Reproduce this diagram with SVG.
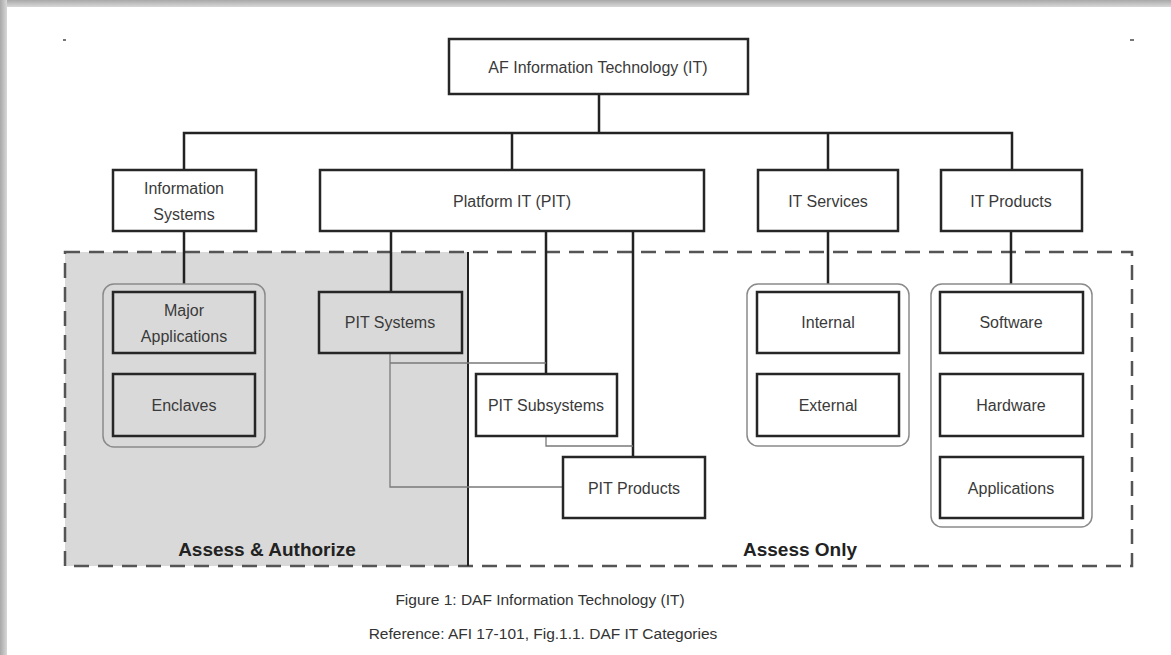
<svg xmlns="http://www.w3.org/2000/svg" width="1171" height="655" viewBox="0 0 1171 655">
<defs>
<linearGradient id="shT" x1="0" y1="0" x2="0" y2="1"><stop offset="0" stop-color="#a8a8a8"/><stop offset="1" stop-color="#d8d8d8"/></linearGradient>
<linearGradient id="shL" x1="0" y1="0" x2="1" y2="0"><stop offset="0" stop-color="#a8a8a8"/><stop offset="1" stop-color="#d8d8d8"/></linearGradient>
</defs>
<style>
.box{fill:#fff;stroke:#262626;stroke-width:2.5}
.gbox{fill:#d9d9d9;stroke:#262626;stroke-width:2.5}
.grp{fill:none;stroke:#8a8a8a;stroke-width:1.5}
.ln{fill:none;stroke:#222;stroke-width:2.5}
.thin{fill:none;stroke:#7a7a7a;stroke-width:1.3}
.dash{fill:none;stroke:#555;stroke-width:2.5;stroke-dasharray:15 9}
.t{font-family:"Liberation Sans",Arial,sans-serif;font-size:16px;fill:#3a3a3a;text-anchor:middle}
.b{font-family:"Liberation Sans",Arial,sans-serif;font-size:19px;font-weight:bold;fill:#222}
.c{font-family:"Liberation Sans",Arial,sans-serif;font-size:15.5px;fill:#333;text-anchor:middle}
</style>
<rect width="1171" height="655" fill="#fff"/>
<rect x="0" y="0" width="1171" height="7" fill="url(#shT)"/>
<rect x="0" y="0" width="7" height="655" fill="url(#shL)"/>
<rect x="63" y="39" width="3" height="2" fill="#777"/>
<rect x="1130" y="39" width="4" height="2" fill="#777"/>

<g id="zones">
<rect x="65" y="252" width="403" height="314" fill="#d9d9d9"/>
<path class="dash" d="M65 252 H1132 V566 H65 Z"/>
<line x1="468" y1="252" x2="468" y2="566" stroke="#222" stroke-width="2"/>
<text class="b" x="267" y="556" text-anchor="middle">Assess &amp; Authorize</text>
<text class="b" x="743" y="556">Assess Only</text>
</g>

<g id="connectors">
<path class="ln" d="M599 94 V133 M184 170 V133 H1012 V170 M512 133 V170 M828 133 V170"/>
<path class="ln" d="M184 231 V284 M391 231 V292 M546 231 V374 M633 231 V457 M828 231 V284 M1011 231 V284"/>
<path class="thin" d="M390 353 V487 H563 M390 363 H546 M546 436 V446 H633"/>
</g>

<g id="n-af"><rect class="box" x="449" y="39" width="299" height="55"/><text class="t" x="598" y="73">AF Information Technology (IT)</text></g>
<g id="n-is"><rect class="box" x="113" y="170" width="143" height="61"/><text class="t" x="184" y="194">Information</text><text class="t" x="184" y="220">Systems</text></g>
<g id="n-pit"><rect class="box" x="320" y="170" width="384" height="61"/><text class="t" x="512" y="207">Platform IT (PIT)</text></g>
<g id="n-its"><rect class="box" x="758" y="170" width="140" height="61"/><text class="t" x="828" y="207">IT Services</text></g>
<g id="n-itp"><rect class="box" x="941" y="170" width="141" height="61"/><text class="t" x="1011" y="207">IT Products</text></g>

<g id="g-is"><rect class="grp" x="103" y="284" width="162" height="163" rx="11"/></g>
<g id="n-major"><rect class="gbox" x="113" y="292" width="142" height="61"/><text class="t" x="184" y="316">Major</text><text class="t" x="184" y="342">Applications</text></g>
<g id="n-encl"><rect class="gbox" x="113" y="374" width="142" height="62"/><text class="t" x="184" y="411">Enclaves</text></g>
<g id="n-pitsys"><rect class="gbox" x="319" y="292" width="143" height="61"/><text class="t" x="390" y="328">PIT Systems</text></g>
<g id="n-pitsub"><rect class="box" x="476" y="374" width="141" height="62"/><text class="t" x="546" y="411">PIT Subsystems</text></g>
<g id="n-pitprod"><rect class="box" x="563" y="457" width="142" height="61"/><text class="t" x="634" y="494">PIT Products</text></g>

<g id="g-its"><rect class="grp" x="747" y="284" width="162" height="162" rx="11"/></g>
<g id="n-int"><rect class="box" x="757" y="292" width="142" height="61"/><text class="t" x="828" y="328">Internal</text></g>
<g id="n-ext"><rect class="box" x="757" y="374" width="142" height="62"/><text class="t" x="828" y="411">External</text></g>

<g id="g-itp"><rect class="grp" x="931" y="284" width="161" height="243" rx="11"/></g>
<g id="n-sw"><rect class="box" x="940" y="292" width="143" height="61"/><text class="t" x="1011" y="328">Software</text></g>
<g id="n-hw"><rect class="box" x="940" y="374" width="143" height="62"/><text class="t" x="1011" y="411">Hardware</text></g>
<g id="n-app"><rect class="box" x="940" y="457" width="143" height="61"/><text class="t" x="1011" y="494">Applications</text></g>

<g id="caption">
<text class="c" x="540" y="605">Figure 1: DAF Information Technology (IT)</text>
<text class="c" x="543" y="639">Reference: AFI 17-101, Fig.1.1. DAF IT Categories</text>
</g>
</svg>
